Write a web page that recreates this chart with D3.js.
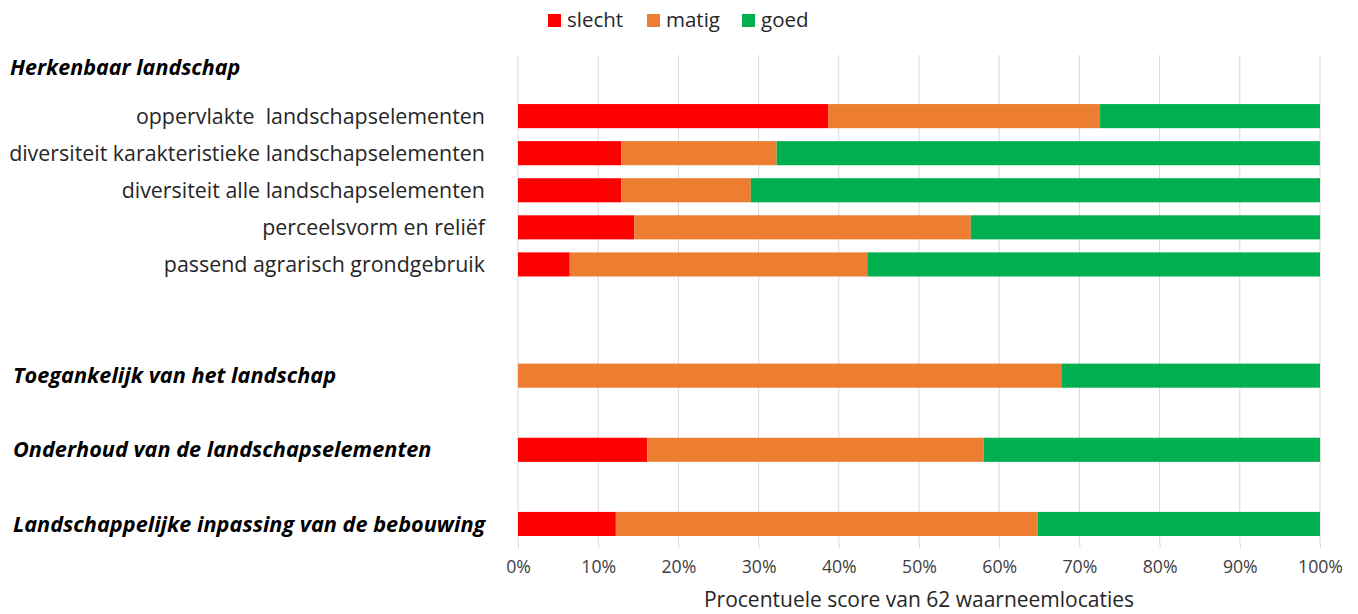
<!DOCTYPE html>
<html>
<head>
<meta charset="utf-8">
<script src="https://cdn.jsdelivr.net/npm/d3@7"></script>
<style>
  html, body { margin: 0; padding: 0; background: #fff; }
  svg { display: block; font-family: "Open Sans", Lato, sans-serif; }
</style>
</head>
<body>
<svg id="chart" width="1358" height="614"></svg>
<script>
// Landscape quality indicators, share of observation sites per score (%)
const groupTitle = "Herkenbaar landschap";
const categories = [
  "oppervlakte  landschapselementen",
  "diversiteit karakteristieke landschapselementen",
  "diversiteit alle landschapselementen",
  "perceelsvorm en reliëf",
  "passend agrarisch grondgebruik",
  "Toegankelijk van het landschap",
  "Onderhoud van de landschapselementen",
  "Landschappelijke inpassing van de bebouwing"
];
const isMainTopic = [false, false, false, false, false, true, true, true];
const slecht = [38.71, 12.90, 12.90, 14.52, 6.45, 0, 16.13, 12.2];
const matig  = [33.87, 19.35, 16.13, 41.94, 37.10, 67.74, 41.94, 52.6];
const goed   = [27.42, 67.74, 70.97, 43.55, 56.45, 32.26, 41.94, 35.2];
const seriesNames = ["slecht", "matig", "goed"];
const seriesColors = ["#ff0000", "#ed7d31", "#00b050"];
const tickValues = [0, 10, 20, 30, 40, 50, 60, 70, 80, 90, 100];
const axisTitle = "Procentuele score van 62 waarneemlocaties";

// Vertical slots: group header, five sub-indicators, spacers, three main topics
const slots = ["header", categories[0], categories[1], categories[2], categories[3], categories[4],
  "gap1", "gap2", categories[5], "gap3", categories[6], "gap4", categories[7]];

const svg = d3.select("#chart");
const x = d3.scaleLinear().domain([0, 100]).range([518, 1320]);
const y = d3.scaleBand().domain(slots).range([60.5, 542.5]).paddingInner(0.35).paddingOuter(0.175);
const plotTop = 55, plotBottom = 543;

// gridlines
svg.append("g").selectAll("line").data(tickValues).join("line")
  .attr("x1", d => x(d)).attr("x2", d => x(d))
  .attr("y1", plotTop).attr("y2", plotBottom)
  .attr("stroke", "#d9d9d9").attr("stroke-width", 1);

// bottom axis with small tick marks and percentage labels
const axis = svg.append("g").attr("transform", `translate(0,${plotBottom})`)
  .call(d3.axisBottom(x).tickValues(tickValues).tickSize(5).tickPadding(12).tickFormat(d => d + "%"));
axis.select(".domain").remove();
axis.selectAll(".tick line").attr("stroke", "#d9d9d9");
axis.selectAll(".tick text").attr("font-family", "'Open Sans', sans-serif").attr("font-size", 17.7).attr("fill", "#404040");

// stacked data
const rows = categories.map((c, i) => ({ cat: c, slecht: slecht[i], matig: matig[i], goed: goed[i] }));
const stack = d3.stack().keys(seriesNames)(rows);
const color = d3.scaleOrdinal().domain(seriesNames).range(seriesColors);

svg.append("g").selectAll("g").data(stack).join("g")
  .attr("fill", d => color(d.key))
  .selectAll("rect").data(d => d).join("rect")
  .attr("x", d => x(d[0]))
  .attr("width", d => x(d[1]) - x(d[0]))
  .attr("y", d => y(d.data.cat))
  .attr("height", y.bandwidth());

// category labels
const labels = svg.append("g");
categories.forEach((c, i) => {
  const cy = y(c) + y.bandwidth() / 2;
  if (isMainTopic[i]) {
    labels.append("text").attr("x", 13).attr("y", cy).attr("dy", "0.35em")
      .attr("font-size", 21.7).attr("font-weight", "bold").attr("font-style", "italic")
      .attr("fill", "#000").text(c);
  } else {
    labels.append("text").attr("xml:space", "preserve").style("white-space", "pre")
      .attr("x", 485).attr("y", cy).attr("dy", "0.35em")
      .attr("text-anchor", "end").attr("font-size", 21.4).attr("fill", "#262626").text(c);
  }
});

// group header
labels.append("text").attr("x", 10).attr("y", y("header") + y.bandwidth() / 2 - 12).attr("dy", "0.35em")
  .attr("font-size", 21.5).attr("font-weight", "bold").attr("font-style", "italic")
  .attr("fill", "#000").text(groupTitle);

// axis title
svg.append("text").attr("x", (x(0) + x(100)) / 2).attr("y", 600).attr("dy", "0.35em")
  .attr("text-anchor", "middle").attr("font-size", 21).attr("fill", "#262626").text(axisTitle);

// legend
const legendX = [548, 647, 742];
const legend = svg.append("g");
seriesNames.forEach((s, i) => {
  legend.append("rect").attr("x", legendX[i]).attr("y", 14).attr("width", 13).attr("height", 13)
    .attr("fill", seriesColors[i]);
  legend.append("text").attr("x", legendX[i] + 19).attr("y", 20).attr("dy", "0.35em")
    .attr("font-size", 20.5).attr("fill", "#262626").text(s);
});
</script>
</body>
</html>
